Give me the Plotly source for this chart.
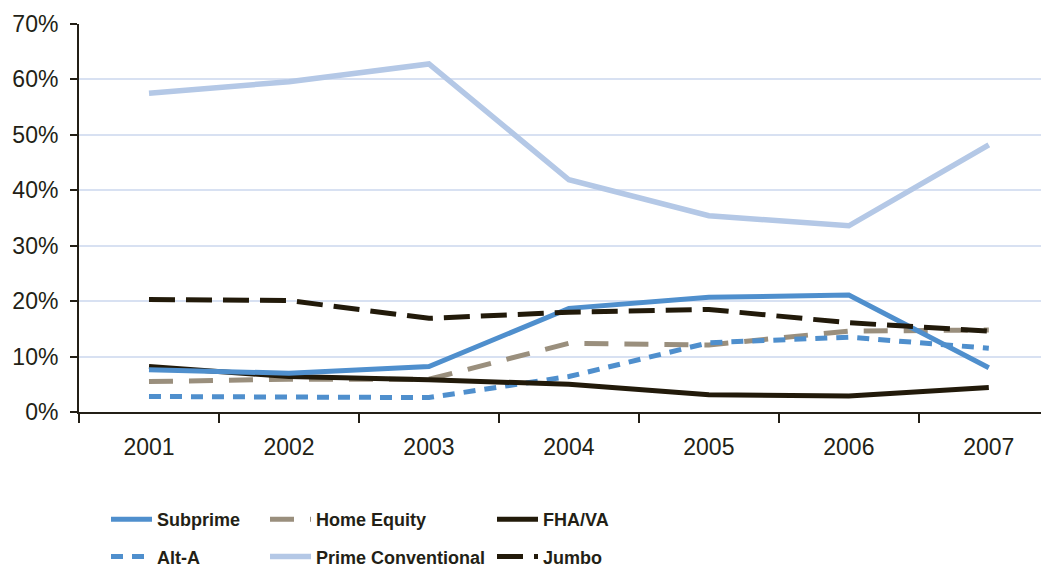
import plotly.graph_objects as go

years = ["2001", "2002", "2003", "2004", "2005", "2006", "2007"]
subprime = [7.6, 7.0, 8.2, 18.7, 20.7, 21.1, 8.0]
alt_a = [2.8, 2.6, 2.6, 6.4, 12.5, 13.5, 11.5]
home_equity = [5.5, 5.9, 5.9, 12.4, 12.1, 14.6, 14.8]
prime_conv = [57.5, 59.6, 62.8, 41.9, 35.4, 33.6, 48.2]
fha_va = [8.2, 6.4, 5.8, 5.0, 3.1, 2.9, 4.4]
jumbo = [20.3, 20.1, 16.9, 18.0, 18.5, 16.1, 14.6]
y_ticks = [0, 10, 20, 30, 40, 50, 60, 70]
y_labels = ["0%", "10%", "20%", "30%", "40%", "50%", "60%", "70%"]

FONT = "Liberation Sans Narrow, Arial Narrow, Liberation Sans, Arial, sans-serif"
TXT = "#231f16"
BLUE = "#4f8fcd"
LIGHT = "#b4c8e6"
TAUPE = "#9a8f7d"
DARK = "#221a0a"

fig = go.Figure()

def add(name, y, color, dash, legend, rank, width=5):
    fig.add_trace(go.Scatter(
        x=years, y=y, name=name, mode="lines",
        line=dict(color=color, width=width, dash=dash),
        legend=legend, legendgroup=name, legendrank=rank,
        hoverinfo="skip"))

add("Prime Conventional", prime_conv, LIGHT, "solid", "legend2", 2, 5.5)
add("Home Equity", home_equity, TAUPE, "24px,16px", "legend2", 1)
add("Alt-A", alt_a, BLUE, "12px,9px", "legend", 2)
add("FHA/VA", fha_va, DARK, "solid", "legend3", 1)
add("Subprime", subprime, BLUE, "solid", "legend", 1)
add("Jumbo", jumbo, DARK, "26px,11px", "legend3", 2)

# page body offsets the figure by 8px
OFF = 8
W, H = 1049 - OFF, 567 - OFF
L, R, T, B = 79 - OFF, 1049 - OFF, 24 - OFF, 412 - OFF

def px_x(px):
    return (px - OFF - L) / (R - L)

def px_y(py):
    return (B - (py - OFF)) / (B - T)

leg_common = dict(
    orientation="v", traceorder="grouped", tracegroupgap=11,
    font=dict(family=FONT, size=18, color=TXT, weight="bold"),
    bgcolor="rgba(0,0,0,0)", yanchor="top", xanchor="left",
    itemwidth=41,
)

fig.update_layout(
    width=W, height=H,
    margin=dict(l=L, r=W - R, t=T, b=H - B, pad=0, autoexpand=False),
    paper_bgcolor="white", plot_bgcolor="white",
    font=dict(family=FONT, size=23, color=TXT),
    showlegend=True,
    legend=dict(x=px_x(106), y=px_y(501), **leg_common),
    legend2=dict(x=px_x(265), y=px_y(501), **leg_common),
    legend3=dict(x=px_x(492), y=px_y(501), **leg_common),
    xaxis=dict(
        type="category", range=[-0.5, 6.43], tickson="boundaries",
        showgrid=False, showline=True, linecolor=TXT, linewidth=2,
        ticks="outside", ticklen=9, tickwidth=2, tickcolor=TXT,
        ticklabelstandoff=13, zeroline=False, automargin=False,
        tickfont=dict(family=FONT, size=23, color=TXT),
    ),
    yaxis=dict(
        range=[0, 70], tickvals=y_ticks, ticktext=y_labels,
        showgrid=True, gridcolor="#d8e1f2", gridwidth=1.5,
        showline=True, linecolor=TXT, linewidth=2,
        ticks="outside", ticklen=7, tickwidth=2, tickcolor=TXT,
        zeroline=False, ticklabelstandoff=7, automargin=False,
        tickfont=dict(family=FONT, size=23, color=TXT),
    ),
)

fig.write_html("out.html")
